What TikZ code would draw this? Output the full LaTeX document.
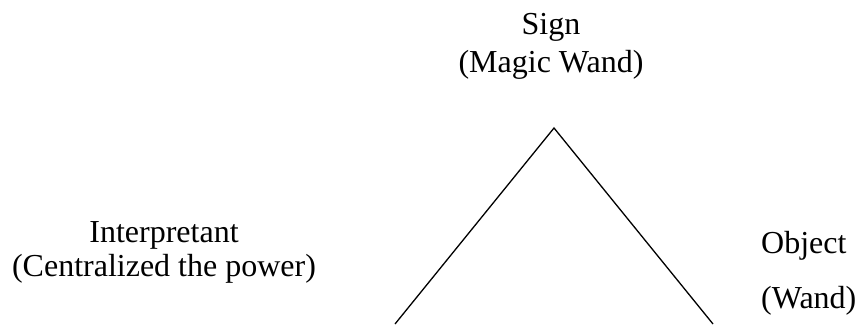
\documentclass[tikz,border=0pt]{standalone}
\usepackage{fontspec}
\setmainfont{Liberation Serif}
\usetikzlibrary{positioning}

\begin{document}
\begin{tikzpicture}[
    x=1pt, y=-1pt,
    every node/.style={
        inner sep=0pt,
        anchor=base
    },
    vertex/.style={
        align=center,
        font=\fontsize{32}{38}\selectfont
    },
    leg/.style={line width=1.3pt}
]
\useasboundingbox (0,0) rectangle (858,324);

% ------------------------
% Triangle
% ------------------------
\coordinate (apex) at (554,128);
\coordinate (leftfoot) at (395,324);
\coordinate (rightfoot) at (713,324);

\draw[leg] (leftfoot) -- (apex) -- (rightfoot);

% ------------------------
% Corners of the triangle
% ------------------------
\node[vertex] (sign) at (551,72)
{Sign\\
(Magic Wand)};

\node[vertex, font=\fontsize{32}{34}\selectfont] (interp) at (164,276)
{Interpretant\\
(Centralized the power)};

\node[vertex, align=left, anchor=base west, font=\fontsize{32}{55}\selectfont] (object) at (761,308)
{Object\\
(Wand)};

\end{tikzpicture}
\end{document}
